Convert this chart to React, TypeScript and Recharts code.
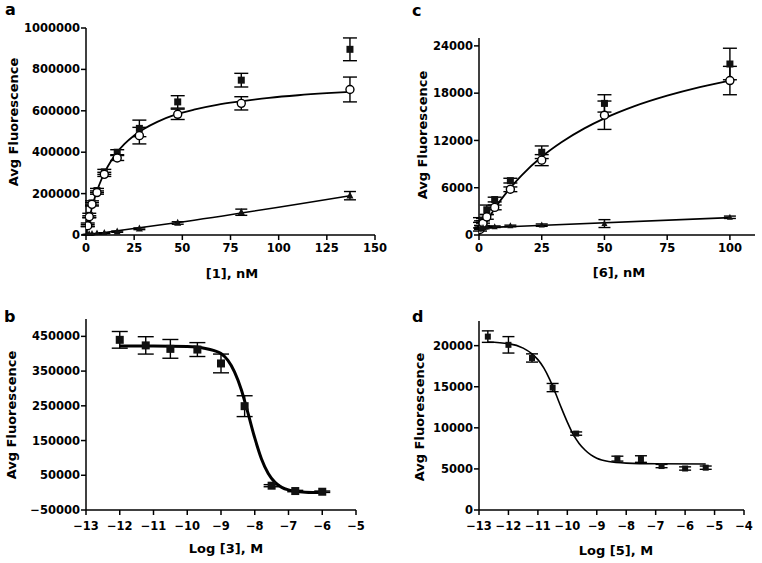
import React from 'react';
import { ScatterChart, Scatter, XAxis, YAxis, ErrorBar } from 'recharts';

const FONT = '"DejaVu Sans", "Liberation Sans", sans-serif';

// ---------- Panel a: [1], nM ----------
const aConc = [0.9, 1.7, 3.1, 5.7, 9.5, 16.2, 27.7, 47.6, 80.6, 137];
const aSquareY = [50000, 95000, 155000, 215000, 305000, 400000, 515000, 643000, 748000, 897000];
const aSquareErr = [8000, 10000, 10000, 10000, 12000, 12000, 40000, 30000, 33000, 55000];
const aCircleY = [45000, 88000, 148000, 205000, 293000, 372000, 480000, 583000, 636000, 703000];
const aCircleErr = [5000, 5000, 8000, 8000, 10000, 12000, 40000, 25000, 32000, 60000];
const aTriY = [1500, 2500, 4000, 6000, 9000, 16000, 30000, 58000, 110000, 190000];
const aTriErr = [1000, 1000, 1000, 1500, 2000, 3000, 4000, 6000, 15000, 20000];
const aFitX = [0, 1, 2, 3, 4, 6, 8, 10, 13, 16, 20, 25, 30, 37, 46, 56, 68, 80, 95, 110, 125, 137];
const aFitY = [0, 48300, 90900, 128700, 162600, 220500, 268200, 308400, 357600, 397400, 439700, 480700, 512500, 546800, 580000, 605600, 628800, 645300, 662600, 675200, 684900, 691300];
const aTriFitX = [0, 47.6, 137];
const aTriFitY = [0, 60000, 190000];
const aXTicks = [0, 25, 50, 75, 100, 125, 150];
const aYTicks = [0, 200000, 400000, 600000, 800000, 1000000];

// ---------- Panel c: [6], nM ----------
const cConc = [0.4, 0.8, 1.6, 3.1, 6.25, 12.5, 25, 50, 100];
const cSquareY = [1900, 1500, 1800, 3200, 4500, 6900, 10500, 16700, 21700];
const cSquareErr = [300, 300, 300, 600, 300, 300, 800, 1100, 2000];
const cCircleY = [700, 1000, 1500, 2300, 3500, 5800, 9500, 15200, 19600];
const cCircleErr = [200, 200, 300, 300, 300, 300, 700, 1800, 1800];
const cTriY = [800, 900, 950, 1000, 1050, 1150, 1250, 1450, 2250];
const cTriErr = [100, 100, 100, 100, 100, 100, 150, 500, 150];
const cFitX = [0, 1, 2, 3.1, 5, 6.25, 9, 12.5, 17, 25, 33, 42, 50, 62, 75, 88, 100];
const cFitY = [0, 590, 1160, 1760, 2740, 3340, 4580, 5990, 7580, 9930, 11800, 13530, 14800, 16350, 17680, 18770, 19600];
const cTriFitX = [0, 100];
const cTriFitY = [900, 2200];
const cXTicks = [0, 25, 50, 75, 100];
const cYTicks = [0, 6000, 12000, 18000, 24000];

// ---------- Panel b: Log [3], M ----------
const bLog = [-12, -11.23, -10.5, -9.7, -9, -8.3, -7.5, -6.8, -6];
const bY = [440000, 424000, 414000, 412000, 372000, 249000, 20000, 4600, 2600];
const bErr = [24000, 25000, 27000, 20000, 27000, 30000, 3000, 2000, 2000];
const bFitX = [-12, -11, -10, -9.5, -9.2, -9, -8.8, -8.6, -8.4, -8.3, -8.2, -8.0, -7.8, -7.6, -7.4, -7.2, -7.0, -6.8, -6.5, -6];
const bFitY = [422000, 422000, 420500, 416000, 409000, 400700, 381600, 348000, 297000, 264000, 229000, 157500, 97000, 55000, 29500, 15300, 7800, 3900, 1400, 250];
const bXTicks = [-13, -12, -11, -10, -9, -8, -7, -6, -5];
const bYTicks = [-50000, 50000, 150000, 250000, 350000, 450000];

// ---------- Panel d: Log [5], M ----------
const dLog = [-12.7, -12, -11.2, -10.5, -9.7, -8.3, -7.5, -6.8, -6, -5.3];
const dY = [21100, 20100, 18500, 14900, 9300, 6250, 6200, 5350, 5050, 5150];
const dErr = [700, 1000, 500, 500, 200, 300, 400, 200, 200, 200];
const dFitX = [-12.7, -12, -11.5, -11.2, -11, -10.8, -10.6, -10.4, -10.2, -10, -9.8, -9.6, -9.4, -9.2, -9, -8.6, -8, -7, -5.3];
const dFitY = [20450, 20250, 19700, 19000, 18300, 17300, 15900, 14200, 12400, 10700, 9200, 8100, 7300, 6700, 6300, 5900, 5700, 5620, 5600];
const dXTicks = [-13, -12, -11, -10, -9, -8, -7, -6, -5, -4];
const dYTicks = [0, 5000, 10000, 15000, 20000];

const pts = (xs: number[], ys: number[], es?: number[]) =>
  xs.map((x, i) => ({ x, y: ys[i], e: es ? es[i] : 0 }));

const minus = (v: number) => String(v).replace('-', '\u2212');

const square = (s: number) => (p: any) => (
  <rect x={p.cx - s / 2} y={p.cy - s / 2} width={s} height={s} fill="#111" />
);
const circle = (r: number) => (p: any) => (
  <circle cx={p.cx} cy={p.cy} r={r} fill="#fff" stroke="#000" strokeWidth={1.4} />
);
const triangle = (s: number) => (p: any) => (
  <polygon
    points={`${p.cx},${p.cy - s * 0.6} ${p.cx - s / 2},${p.cy + s * 0.4} ${p.cx + s / 2},${p.cy + s * 0.4}`}
    fill="#111"
  />
);
const noDot = () => <g />;

const tickStyle = { fill: '#000', fontSize: 11.5, fontWeight: 700, fontFamily: FONT };
const axisStroke = { stroke: '#000', strokeWidth: 1.5 };

type PanelProps = {
  left: number;
  top: number;
  width: number;
  height: number;
  yAxisWidth: number;
  xTickMargin: number;
  margin: { top: number; right: number; bottom: number; left: number };
  xDomain: [number, number];
  yDomain: [number, number];
  xTicks: number[];
  yTicks: number[];
  children: React.ReactNode;
};

function Panel(p: PanelProps) {
  return (
    <div style={{ position: 'absolute', left: p.left, top: p.top }}>
      <ScatterChart width={p.width} height={p.height} margin={p.margin}>
        <XAxis
          type="number"
          dataKey="x"
          domain={p.xDomain}
          ticks={p.xTicks}
          interval={0}
          allowDataOverflow
          height={30}
          tickSize={5}
          tickMargin={p.xTickMargin}
          axisLine={axisStroke}
          tickLine={axisStroke}
          tick={tickStyle}
          tickFormatter={minus}
        />
        <YAxis
          type="number"
          dataKey="y"
          domain={p.yDomain}
          ticks={p.yTicks}
          interval={0}
          allowDataOverflow
          width={p.yAxisWidth}
          tickSize={5}
          tickMargin={1}
          axisLine={axisStroke}
          tickLine={axisStroke}
          tick={tickStyle}
          tickFormatter={minus}
        />
        {p.children}
      </ScatterChart>
    </div>
  );
}

const curve = (key: string, data: any[], w: number) => (
  <Scatter
    key={key}
    name={key}
    data={data}
    dataKey="y"
    shape={noDot}
    line={{ stroke: '#000', strokeWidth: w }}
    lineType="joint"
    lineJointType="monotoneX"
    isAnimationActive={false}
  />
);

const marks = (key: string, data: any[], shape: any, cap: number) => (
  <Scatter key={key} name={key} data={data} dataKey="y" shape={shape} isAnimationActive={false}>
    <ErrorBar dataKey="e" direction="y" width={cap} stroke="#000" strokeWidth={1.4} />
  </Scatter>
);

export default function App() {
  return (
    <div
      style={{
        position: 'absolute',
        left: 0,
        top: 0,
        width: 762,
        height: 563,
        background: '#fff',
        overflow: 'hidden',
      }}
    >
      {/* Panel a */}
      <Panel
        left={0}
        top={0}
        width={395}
        height={290}
        yAxisWidth={86}
        xTickMargin={4}
        margin={{ top: 28, right: 20, bottom: 25, left: 0 }}
        xDomain={[0, 150]}
        yDomain={[0, 1000000]}
        xTicks={aXTicks}
        yTicks={aYTicks}
      >
        {curve('aTriFit', pts(aTriFitX, aTriFitY), 1.6)}
        {curve('aFit', pts(aFitX, aFitY), 1.8)}
        {marks('aSquares', pts(aConc, aSquareY, aSquareErr), square(7), 7)}
        {marks('aCircles', pts(aConc, aCircleY, aCircleErr), circle(4), 7)}
        {marks('aTriangles', pts(aConc, aTriY, aTriErr), triangle(7), 6)}
      </Panel>

      {/* Panel c */}
      <Panel
        left={390}
        top={0}
        width={372}
        height={290}
        yAxisWidth={89}
        xTickMargin={4}
        margin={{ top: 38, right: 7, bottom: 25, left: 0 }}
        xDomain={[0, 110]}
        yDomain={[0, 25000]}
        xTicks={cXTicks}
        yTicks={cYTicks}
      >
        {curve('cTriFit', pts(cTriFitX, cTriFitY), 1.6)}
        {curve('cFit', pts(cFitX, cFitY), 1.8)}
        {marks('cSquares', pts(cConc, cSquareY, cSquareErr), square(7), 7)}
        {marks('cCircles', pts(cConc, cCircleY, cCircleErr), circle(4), 7)}
        {marks('cTriangles', pts(cConc, cTriY, cTriErr), triangle(6), 6)}
      </Panel>

      {/* Panel b */}
      <Panel
        left={0}
        top={290}
        width={390}
        height={273}
        yAxisWidth={86}
        xTickMargin={7}
        margin={{ top: 29, right: 34, bottom: 23, left: 0 }}
        xDomain={[-13, -5]}
        yDomain={[-50000, 500000]}
        xTicks={bXTicks}
        yTicks={bYTicks}
      >
        {curve('bFit', pts(bFitX, bFitY), 3)}
        {marks('bSquares', pts(bLog, bY, bErr), square(8), 8)}
      </Panel>

      {/* Panel d */}
      <Panel
        left={390}
        top={290}
        width={372}
        height={273}
        yAxisWidth={89}
        xTickMargin={7}
        margin={{ top: 31, right: 18, bottom: 23, left: 0 }}
        xDomain={[-13, -4]}
        yDomain={[0, 23000]}
        xTicks={dXTicks}
        yTicks={dYTicks}
      >
        {curve('dFit', pts(dFitX, dFitY), 1.6)}
        {marks('dSquares', pts(dLog, dY, dErr), square(6), 6)}
      </Panel>

      {/* Text overlay */}
      <svg
        width={762}
        height={563}
        style={{ position: 'absolute', left: 0, top: 0, pointerEvents: 'none' }}
        fontFamily={FONT}
        fontWeight={700}
        fill="#000"
      >
        <text x={5} y={15} fontSize={16}>a</text>
        <text x={412} y={16} fontSize={16}>c</text>
        <text x={4} y={322} fontSize={16}>b</text>
        <text x={412} y={322} fontSize={16}>d</text>

        <text transform="translate(18,122) rotate(-90)" textAnchor="middle" fontSize={13}>Avg Fluorescence</text>
        <text transform="translate(427,135) rotate(-90)" textAnchor="middle" fontSize={13}>Avg Fluorescence</text>
        <text transform="translate(16,415) rotate(-90)" textAnchor="middle" fontSize={13}>Avg Fluorescence</text>
        <text transform="translate(424,417) rotate(-90)" textAnchor="middle" fontSize={13}>Avg Fluorescence</text>

        <text x={232} y={278} textAnchor="middle" fontSize={13}>[1], nM</text>
        <text x={619} y={277} textAnchor="middle" fontSize={13}>[6], nM</text>
        <text x={226} y={553} textAnchor="middle" fontSize={13}>Log [3], M</text>
        <text x={616} y={555} textAnchor="middle" fontSize={13}>Log [5], M</text>
      </svg>
    </div>
  );
}
